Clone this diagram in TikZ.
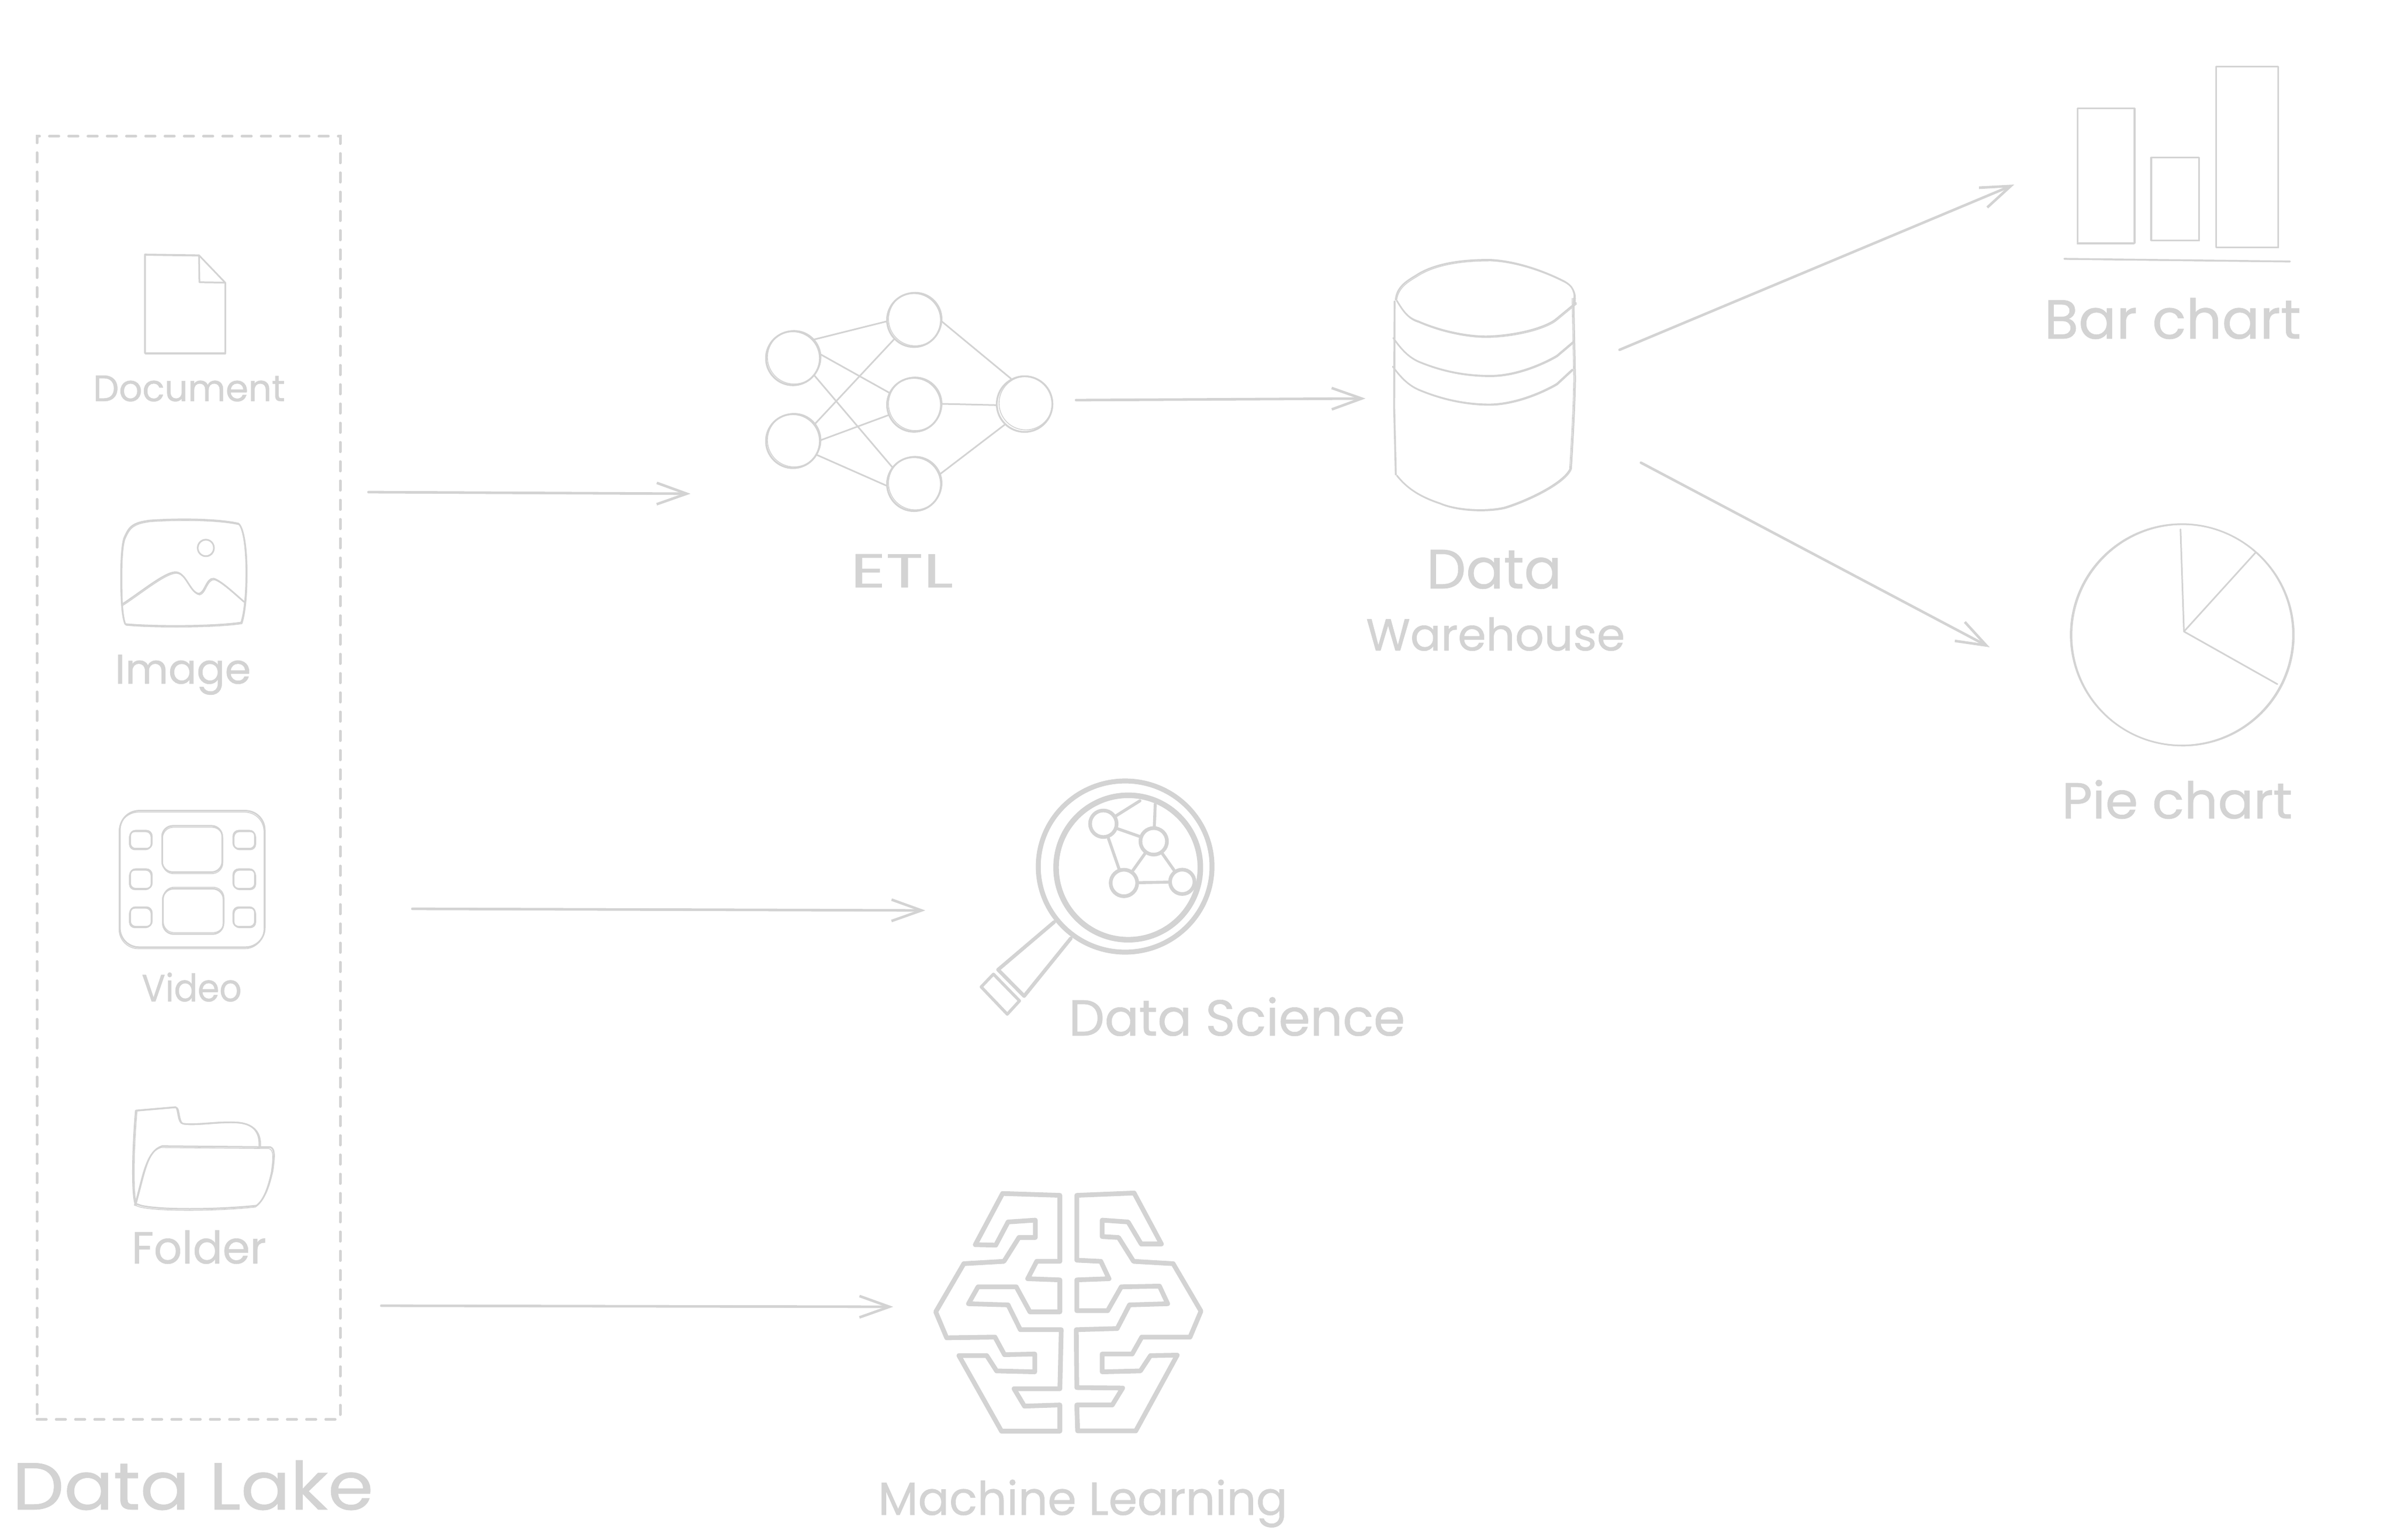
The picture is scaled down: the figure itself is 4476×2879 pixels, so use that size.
\documentclass[tikz,border=0pt]{standalone}
\usepackage{fontspec}
\usepackage{graphicx}
\setmainfont[FakeBold=0.7]{Poppins}
\usetikzlibrary{arrows.meta}
\definecolor{sk}{HTML}{D3D3D3}
\tikzset{
  zf/.style n args={4}{shift={(#1,#2)},xscale=#3/1568,yscale=#4/1568},
  ln/.style={draw=sk,line width=0.75pt,line cap=round,line join=round},
  lnb/.style={draw=sk,line width=0.4pt,line cap=round,line join=round},
  arr/.style={draw=sk,line width=1.2pt,line cap=round,-{Straight Barb[length=14pt,width=10pt,line width=1.2pt]}},
  lbl/.style={anchor=base west,inner sep=0pt,outer sep=0pt,text=sk},
  nn/.style={circle,draw=sk,line width=0.85pt,minimum size=25.2pt,inner sep=0pt},
  gn/.style={circle,draw=sk,line width=1.7pt,minimum size=12.4pt,inner sep=0pt},
  gl/.style={draw=sk,line width=1.4pt,line cap=round},
  brain/.style={draw=sk,line width=2.2pt,line join=round,line cap=round}
}
\newcommand\sk[2][(1.8,2.2)]{\draw[ln] #2;\draw[lnb,shift={#1}] #2;}
\newcommand\lab[6]{\node[lbl] (#1) at (#2,#4) {\resizebox{\dimexpr #3pt/4\relax}{\dimexpr #5pt/4\relax}{#6}};}
\begin{document}
\begin{tikzpicture}[x=0.25pt,y=-0.25pt]
\useasboundingbox (0,0) rectangle (4476,2879);
\fill[white] (0,0) rectangle (4476,2879);

% Data lake frame
\node[draw=sk,line width=1.25pt,line cap=round,dash pattern=on 4.4pt off 4.6pt,minimum width=141.75pt,minimum height=599.75pt,inner sep=0pt] (lake) at (352.5,1454) {};

% Document and image icons
\begin{scope}[zf={0}{200}{720}{1100}]
\sk{(590,393) -- (810,395) -- (917,468) -- (917,656) -- (590,656) -- cycle}
\sk[(1.5,1)]{(810,395) -- (812,467) -- (917,468)}
\sk[(3,3)]{(505,1150) .. controls (525,1118) and (540,1108) .. (610,1102) .. controls (720,1097) and (880,1097) .. (970,1110) .. controls (990,1118) and (1003,1170) .. (1003,1240) .. controls (1003,1300) and (995,1350) .. (982,1374) .. controls (870,1385) and (620,1385) .. (510,1378) .. controls (498,1360) and (493,1320) .. (493,1250) .. controls (493,1210) and (496,1170) .. (505,1150) -- cycle}
\sk[(1,1)]{(838,1175) ellipse [x radius=33,y radius=22]}
\sk[(3,3)]{(498,1325) .. controls (580,1290) and (680,1235) .. (720,1240) .. controls (760,1245) and (775,1295) .. (810,1297) .. controls (835,1295) and (840,1255) .. (870,1257) .. controls (900,1262) and (960,1300) .. (993,1318)}
\end{scope}

% Video and folder icons
\begin{scope}[zf={0}{1450}{720}{1429}]
\begin{scope}[rounded corners=9pt]
\sk[(-3,3)]{(488,72) rectangle (1078,352)}
\end{scope}
\begin{scope}[rounded corners=2.5pt]
\foreach \yy/\zz in {113/150,192/232,270/310}{
  \sk[(-3,2)]{(530,\yy) rectangle (618,\zz)}
  \sk[(3,2)]{(950,\yy) rectangle (1038,\zz)}
}
\end{scope}
\begin{scope}[rounded corners=5pt]
\sk[(2,3)]{(660,103) rectangle (905,198)}
\sk[(2,-3)]{(663,232) rectangle (910,325)}
\end{scope}
\sk[(5,1)]{(552,880) .. controls (535,860) and (540,760) .. (553,687) -- (715,680) .. controls (728,682) and (722,712) .. (745,714) .. controls (800,718) and (900,708) .. (975,712) .. controls (1040,716) and (1058,735) .. (1056,760)}
\sk[(-5,3)]{(555,875) .. controls (590,810) and (600,770) .. (660,760) -- (1100,762) .. controls (1120,765) and (1118,780) .. (1110,810) .. controls (1095,845) and (1075,870) .. (1045,882) .. controls (900,890) and (660,892) .. (575,882) -- (552,878) -- cycle}
\end{scope}

% ETL network
\begin{scope}[zf={1400}{480}{700}{700}]
\node[nn] (n1) at (185,425) {};
\node[nn] (n2) at (185,772) {};
\node[nn] (m1) at (692,265) {};
\node[nn] (m2) at (692,620) {};
\node[nn] (m3) at (692,952) {};
\node[nn,minimum size=26pt] (o1) at (1155,617) {};
\foreach \a/\aa/\b/\bb in {n1/42/m1/183,n1/8/m2/154,n1/-39/m3/142,n2/38/m1/224,n2/2/m2/-158,n2/-30/m3/-177,m1/-3/o1/118,m2/2/o1/-178,m3/21/o1/-134}{\draw[ln] (\a.\aa) -- (\b.\bb);}
\foreach \xx/\yy in {185/425,185/772,692/265,692/620,692/952,1155/617}{
  \draw[lnb] (\xx+5,\yy-4) ellipse [x radius=112,y radius=112];
}
\end{scope}

% Data warehouse
\begin{scope}[zf={2500}{440}{700}{840}]
\sk[(4,4)]{(245,225) .. controls (250,180) and (290,160) .. (330,140) .. controls (420,90) and (560,85) .. (640,85) .. controls (760,90) and (880,130) .. (950,160) .. controls (990,178) and (998,200) .. (992,235)}
\sk[(3,4)]{(250,228) .. controls (280,270) and (300,290) .. (340,300) .. controls (450,340) and (570,355) .. (640,352) .. controls (760,348) and (880,320) .. (920,290) -- (1000,235)}
\sk[(3,3)]{(235,358) .. controls (270,400) and (300,425) .. (340,440) .. controls (440,475) and (540,490) .. (640,490) .. controls (760,490) and (880,440) .. (920,420) -- (988,372)}
\sk[(3,3)]{(233,458) .. controls (270,500) and (300,523) .. (340,538) .. controls (440,573) and (540,590) .. (640,590) .. controls (760,588) and (880,538) .. (920,518) -- (985,468)}
\sk[(3,0)]{(240,230) -- (238,600) -- (245,835)}
\sk[(-6,0)]{(990,220) -- (997,500) .. controls (995,600) and (988,700) .. (980,812)}
\sk[(4,3)]{(250,838) .. controls (290,880) and (340,910) .. (430,935) .. controls (500,960) and (620,965) .. (700,950) .. controls (800,925) and (960,860) .. (978,810)}
\end{scope}

% Bar chart
\begin{scope}[zf={3800}{80}{676}{600}]
\sk[(-3,2)]{(197,320) rectangle (443,980)}
\sk[(3,2)]{(514,560) rectangle (722,966)}
\sk[(3,2)]{(796,116) rectangle (1065,1000)}
\sk[(0,3)]{(138,1055) -- (1117,1068)}
\end{scope}

% Pie chart
\begin{scope}[zf={3800}{950}{676}{640}]
\sk[(5,2)]{(648,580) ellipse [x radius=482,y radius=507]}
\draw[ln] (657,565) -- (642,97);
\draw[ln] (657,565) -- (968,203);
\draw[ln] (657,565) -- (1062,806);
\end{scope}

% Magnifier
\begin{scope}[zf={1800}{1430}{900}{560}]
\draw[draw=sk,line width=2.3pt] (529,532) ellipse [x radius=283,y radius=448];
\draw[draw=sk,line width=2.6pt] (539,537) ellipse [x radius=235,y radius=378];
\node[gn] (g1) at (458,308) {};
\node[gn] (g2) at (622,400) {};
\node[gn] (g3) at (525,618) {};
\node[gn,minimum size=11.4pt] (g4) at (715,612) {};
\coordinate (gt1) at (577,188);
\coordinate (gt2) at (627,205);
\foreach \a/\b in {g1/g2,g1/g3,g2/g3,g2/g4,g3/g4,g1/gt1,g2/gt2}{\draw[gl] (\a) -- (\b);}
\draw[draw=sk,line width=1.7pt,line join=round,line cap=round] (298,822) -- (115,1072) -- (200,1210) -- (352,908);
\draw[draw=sk,line width=1.4pt,line join=round] (100,1095) -- (185,1235) -- (145,1305) -- (60,1162) -- cycle;
\end{scope}

% Brain
\begin{scope}[zf={1650}{2200}{800}{679}]
\draw[brain] (650,80) -- (440,72) -- (340,293) -- (415,295) -- (460,195) -- (560,187) -- (560,262) -- (500,262) -- (445,365) -- (298,375) -- (195,583) -- (235,695) -- (412,692) -- (447,768) -- (558,765) -- (558,842) -- (418,838) -- (382,772) -- (280,772) -- (436,1098) -- (650,1098) -- (650,985) -- (520,990) -- (482,915) -- (650,915) -- (655,660) -- (505,660) -- (460,553) -- (315,548) -- (350,475) -- (490,475) -- (540,583) -- (650,583) -- (650,445) -- (532,440) -- (565,365) -- (650,365) -- cycle;
\draw[brain] (712,80) -- (922,70) -- (1022,290) -- (948,290) -- (900,195) -- (805,187) -- (805,258) -- (865,262) -- (920,365) -- (1065,375) -- (1167,580) -- (1127,692) -- (950,692) -- (915,765) -- (805,765) -- (805,842) -- (945,838) -- (982,772) -- (1080,770) -- (928,1097) -- (715,1097) -- (712,985) -- (842,985) -- (880,912) -- (712,910) -- (710,660) -- (860,655) -- (905,553) -- (1045,548) -- (1015,472) -- (875,475) -- (825,578) -- (712,578) -- (712,445) -- (830,440) -- (800,365) -- (712,360) -- cycle;
\end{scope}

% Connectors
\coordinate (a1s) at (689,920); \coordinate (a1e) at (1291,923);
\coordinate (a2s) at (2012,748); \coordinate (a2e) at (2553,745);
\coordinate (a3s) at (3028,654); \coordinate (a3e) at (3766,345);
\coordinate (a4s) at (3068,865); \coordinate (a4e) at (3720,1210);
\coordinate (a5s) at (771,1699); \coordinate (a5e) at (1730,1702);
\coordinate (a6s) at (713,2441); \coordinate (a6e) at (1670,2443);
\foreach \i in {1,...,6}{\draw[arr] (a\i s) -- (a\i e);}

% Labels
\lab{tdoc}{174}{359}{750}{48}{Document}
\lab{timg}{215}{254}{1278}{54}{Image}
\lab{tvid}{265}{187}{1872}{54}{Video}
\lab{tfol}{246}{252}{2362}{62}{Folder}
\lab{tlake}{23}{675}{2822}{92}{Data Lake}
\lab{tetl}{1590}{192}{1098}{62}{ETL}
\lab{tdata}{2667}{253}{1100}{72}{Data}
\lab{tware}{2554}{484}{1216}{62}{Warehouse}
\lab{tbar}{3822}{480}{633}{76}{Bar chart}
\lab{tpie}{3855}{431}{1530}{72}{Pie chart}
\lab{tds}{1998}{629}{1936}{72}{Data Science}
\lab{tml}{1642}{765}{2832}{66}{Machine Learning}
\end{tikzpicture}
\end{document}
